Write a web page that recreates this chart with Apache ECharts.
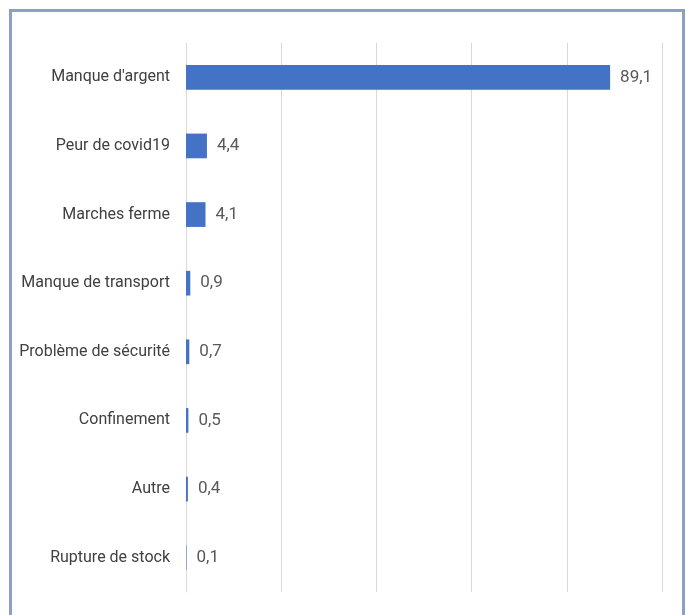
<!DOCTYPE html>
<html>
<head>
<meta charset="utf-8">
<script src="https://cdn.jsdelivr.net/npm/echarts@6/dist/echarts.min.js"></script>
<style>
html,body{margin:0;padding:0;background:#fff;}
#chart{width:686px;height:615px;}
</style>
</head>
<body>
<div id="chart"></div>
<script>
const categories = ["Manque d'argent", "Peur de covid19", "Marches ferme", "Manque de transport", "Problème de sécurité", "Confinement", "Autre", "Rupture de stock"];
const values = [89.1, 4.4, 4.1, 0.9, 0.7, 0.5, 0.4, 0.1];
const axisMax = 100;
const axisStep = 20;

const font = 'Roboto, "Liberation Sans", sans-serif';
const chart = echarts.init(document.getElementById('chart'), null, {renderer: 'canvas'});
chart.setOption({
  animation: false,
  backgroundColor: '#ffffff',
  grid: {left: 186, right: 24, top: 43, bottom: 23, containLabel: false},
  xAxis: {
    type: 'value', min: 0, max: axisMax, interval: axisStep,
    axisLabel: {show: false}, axisTick: {show: false}, axisLine: {show: false},
    splitLine: {show: true, lineStyle: {color: '#d9d9d9', width: 1}}
  },
  yAxis: {
    type: 'category', data: categories, inverse: true,
    axisTick: {show: false},
    axisLine: {show: true, lineStyle: {color: '#d9d9d9', width: 1}},
    axisLabel: {fontFamily: font, fontSize: 16, color: '#404040', margin: 16}
  },
  series: [{
    type: 'bar', data: values, barWidth: '36%',
    itemStyle: {color: '#4472c4'},
    label: {
      show: true, position: 'right', distance: 10,
      fontFamily: font, fontSize: 17, color: '#595959',
      formatter: p => String(p.value).replace('.', ',')
    }
  }],
  graphic: [{
    type: 'rect', shape: {x: 10.5, y: 10.5, width: 673, height: 700},
    style: {fill: 'none', stroke: '#8aa0c4', lineWidth: 3}, silent: true
  }]
});
</script>
</body>
</html>
